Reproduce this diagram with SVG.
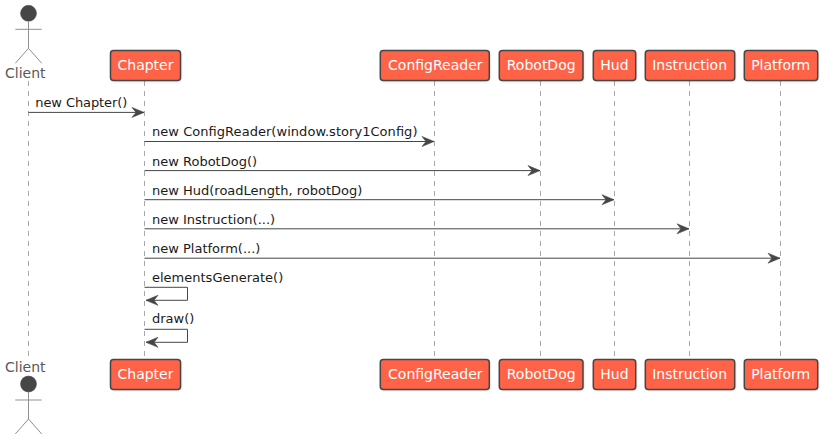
<svg xmlns="http://www.w3.org/2000/svg" width="822" height="440" viewBox="0 0 822 440">
<style>
text{font-family:"DejaVu Sans",sans-serif}
.life{stroke:#a8a8a8;stroke-width:1;stroke-dasharray:5 5;fill:none}
.box{fill:#ff6347;stroke:#454645;stroke-width:1.500}
.shadow{fill:#000;fill-opacity:.18;filter:url(#blur)}
.name{fill:#fff;font-size:14px;text-anchor:middle}
.actor{fill:#595959;font-size:14px}
.limb{stroke:#8f8f8f;stroke-width:1;fill:none}
.head{fill:#454645;stroke:#454645;stroke-width:.5}
.msg{stroke:#454645;stroke-width:1;fill:none}
.lab{fill:#1a1a1a;font-size:13px}
</style>
<defs>
<filter id="blur" x="-20%" y="-20%" width="140%" height="140%"><feGaussianBlur stdDeviation="1"/></filter>
<marker id="ah" markerUnits="userSpaceOnUse" markerWidth="15" markerHeight="14" refX="13.500" refY="7" orient="auto"><path d="M1.500 2 L13.500 7 L1.500 12 L5.500 7 Z" fill="#454645" stroke="#454645" stroke-width=".6"/></marker>
<g id="stick"><circle class="head" cx="28.500" cy="13.300" r="8"/><path class="limb" d="M28.500 21.300V48.300M15.300 29.300H41.700M15.300 63.300L28.500 48.300L41.700 63.300"/></g>
</defs>
<g id="lifelines">
<path class="life" d="M28.500 81V359M144.500 81V359M434.500 81V359M540.500 81V359M614.500 81V359M689.500 81V359M780.500 81V359"/>
</g>
<g id="Client-top"><use href="#stick"/><text class="actor" x="5" y="78">Client</text></g>
<g id="Client-bottom"><use href="#stick" y="370.700"/><text class="actor" x="5" y="372">Client</text></g>
<g id="Chapter-top"><rect class="shadow" x="111.500" y="51.500" width="70" height="30" rx="3"/><rect class="box" x="110.500" y="50.500" width="70" height="30" rx="3"/><text class="name" x="145.500" y="70">Chapter</text></g>
<g id="ConfigReader-top"><rect class="shadow" x="381" y="51.500" width="109" height="30" rx="3"/><rect class="box" x="380.300" y="50.500" width="109" height="30" rx="3"/><text class="name" x="435.300" y="70">ConfigReader</text></g>
<g id="RobotDog-top"><rect class="shadow" x="500" y="51.500" width="84" height="30" rx="3"/><rect class="box" x="499.300" y="50.500" width="83.700" height="30" rx="3"/><text class="name" x="541.200" y="70">RobotDog</text></g>
<g id="Hud-top"><rect class="shadow" x="594" y="51.500" width="42.500" height="30" rx="3"/><rect class="box" x="593.300" y="50.500" width="42.400" height="30" rx="3"/><text class="name" x="614.500" y="70">Hud</text></g>
<g id="Instruction-top"><rect class="shadow" x="646" y="51.500" width="89.500" height="30" rx="3"/><rect class="box" x="645.300" y="50.500" width="89.400" height="30" rx="3"/><text class="name" x="689.600" y="70">Instruction</text></g>
<g id="Platform-top"><rect class="shadow" x="745" y="51.500" width="73.500" height="30" rx="3"/><rect class="box" x="744.300" y="50.500" width="73.400" height="30" rx="3"/><text class="name" x="780.700" y="70">Platform</text></g>
<g id="Chapter-bottom"><rect class="shadow" x="111.500" y="360.500" width="70" height="30" rx="3"/><rect class="box" x="110.500" y="359.500" width="70" height="30" rx="3"/><text class="name" x="145.500" y="379">Chapter</text></g>
<g id="ConfigReader-bottom"><rect class="shadow" x="381" y="360.500" width="109" height="30" rx="3"/><rect class="box" x="380.300" y="359.500" width="109" height="30" rx="3"/><text class="name" x="435.300" y="379">ConfigReader</text></g>
<g id="RobotDog-bottom"><rect class="shadow" x="500" y="360.500" width="84" height="30" rx="3"/><rect class="box" x="499.300" y="359.500" width="83.700" height="30" rx="3"/><text class="name" x="541.200" y="379">RobotDog</text></g>
<g id="Hud-bottom"><rect class="shadow" x="594" y="360.500" width="42.500" height="30" rx="3"/><rect class="box" x="593.300" y="359.500" width="42.400" height="30" rx="3"/><text class="name" x="614.500" y="379">Hud</text></g>
<g id="Instruction-bottom"><rect class="shadow" x="646" y="360.500" width="89.500" height="30" rx="3"/><rect class="box" x="645.300" y="359.500" width="89.400" height="30" rx="3"/><text class="name" x="689.600" y="379">Instruction</text></g>
<g id="Platform-bottom"><rect class="shadow" x="745" y="360.500" width="73.500" height="30" rx="3"/><rect class="box" x="744.300" y="359.500" width="73.400" height="30" rx="3"/><text class="name" x="780.700" y="379">Platform</text></g>
<g id="connectors">
<path class="msg" marker-end="url(#ah)" d="M28.500 112.400H144"/>
<path class="msg" marker-end="url(#ah)" d="M144.500 141.500H434"/>
<path class="msg" marker-end="url(#ah)" d="M144.500 170.600H540"/>
<path class="msg" marker-end="url(#ah)" d="M144.500 199.700H614"/>
<path class="msg" marker-end="url(#ah)" d="M144.500 228.800H689"/>
<path class="msg" marker-end="url(#ah)" d="M144.500 258.200H780"/>
<path class="msg" marker-end="url(#ah)" d="M144.500 287.300H187.500V300.300H146"/>
<path class="msg" marker-end="url(#ah)" d="M144.500 329.300H187.500V342.300H146"/>
</g>
<g id="labels">
<text class="lab" x="35.300" y="107" textLength="92">new Chapter()</text>
<text class="lab" x="152" y="136" textLength="265.500">new ConfigReader(window.story1Config)</text>
<text class="lab" x="152" y="166">new RobotDog()</text>
<text class="lab" x="152" y="195">new Hud(roadLength, robotDog)</text>
<text class="lab" x="152" y="224">new Instruction(...)</text>
<text class="lab" x="152" y="253">new Platform(...)</text>
<text class="lab" x="152" y="282">elementsGenerate()</text>
<text class="lab" x="152" y="323">draw()</text>
</g>
</svg>
